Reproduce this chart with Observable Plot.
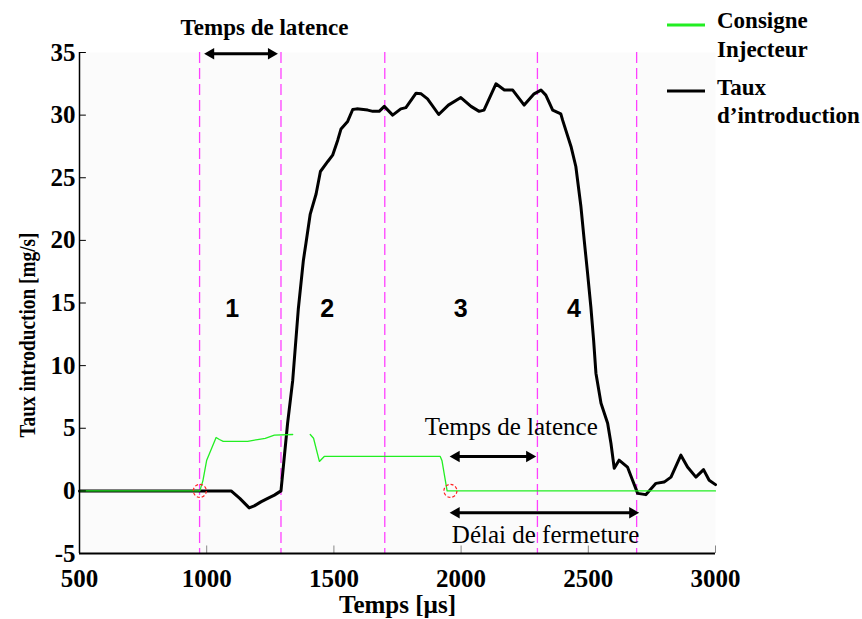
<!DOCTYPE html>
<html>
<head>
<meta charset="utf-8">
<script src="https://cdn.jsdelivr.net/npm/d3@7"></script>
<script src="https://cdn.jsdelivr.net/npm/@observablehq/plot@0.6"></script>
<style>
  html, body { margin: 0; padding: 0; background: #ffffff; }
  #chart { width: 862px; height: 619px; }
</style>
</head>
<body>
<div id="chart"></div>
<script>
// ---- Data ----
const xTicks = [500, 1000, 1500, 2000, 2500, 3000];
const yTicks = [-5, 0, 5, 10, 15, 20, 25, 30, 35];

// Taux d'introduction (black)
const tauxTime = [500, 1096, 1130, 1167, 1187, 1213, 1240, 1266, 1292, 1318, 1338, 1360, 1380, 1390, 1407, 1430, 1447, 1476, 1495, 1515, 1528, 1554, 1574, 1590, 1633, 1653, 1678, 1698, 1731, 1763, 1783, 1823, 1843, 1868, 1912, 1950, 1999, 2039, 2071, 2090, 2137, 2170, 2203, 2248, 2287, 2314, 2333, 2360, 2392, 2399, 2432, 2451, 2471, 2484, 2497, 2510, 2521, 2530, 2550, 2576, 2589, 2602, 2621, 2654, 2674, 2694, 2726, 2766, 2798, 2825, 2864, 2890, 2923, 2953, 2975, 3000];
const tauxValue = [0, 0, -0.6, -1.36, -1.2, -0.88, -0.6, -0.34, 0, 5.4, 8.8, 14.5, 18.4, 19.75, 22.1, 23.7, 25.5, 26.3, 26.8, 28.0, 28.9, 29.5, 30.45, 30.5, 30.4, 30.3, 30.3, 30.7, 30.0, 30.5, 30.6, 31.75, 31.7, 31.3, 30.05, 30.8, 31.4, 30.7, 30.3, 30.4, 32.5, 32.0, 32.0, 30.8, 31.7, 32.0, 31.6, 30.4, 30.1, 29.6, 27.5, 25.9, 22.7, 20.0, 17.4, 14.7, 12.0, 9.4, 7.0, 5.4, 3.8, 1.8, 2.45, 1.9, 0.85, -0.2, -0.3, 0.6, 0.7, 1.1, 2.85, 1.9, 1.1, 1.7, 0.85, 0.5];

// Consigne injecteur (green); null = gap in the trace
const consTime = [500, 973, 985, 1000, 1037, 1050, 1065, 1161, 1200, 1230, 1266, 1338, 1370, 1407, 1420, 1443, 1462, 1918, 1925, 1945, 3000];
const consValue = [0, 0, 0.8, 2.45, 4.26, 4.1, 3.95, 3.95, 4.1, 4.2, 4.45, 4.5, null, 4.5, 4.2, 2.35, 2.75, 2.75, 2.4, 0, 0];

// Phase boundaries (magenta dashed)
const phaseLines = [972, 1292, 1700, 2300, 2690];
// Phase numbers
const phaseLabels = ["1", "2", "3", "4"];
const phaseLabelX = [1100, 1474, 1998, 2444];
const phaseLabelY = 14.56;
// Red circles (start / end of command)
const markerTime = [973, 1958];
const markerValue = [0, 0];

// Annotations
const arrowStart = [990, 1955, 1955];
const arrowEnd = [1280, 2295, 2700];
const arrowY = [34.9, 2.75, -1.75];
const topText = ["Temps de latence"];
const topX = [1227];
const topY = [36.4];
const lowText = ["Temps de latence", "Délai de fermeture"];
const lowX = [2197, 2332];
const lowY = [4.45, -4.15];

const xLabel = "Temps [µs]";
const yLabel = "Taux introduction [mg/s]";
const legendLabels = [["Consigne", "Injecteur"], ["Taux", "d’introduction"]];
const legendColors = ["#22ee22", "#000000"];

// ---- Build tables ----
const taux = tauxTime.map((t, i) => ({t, v: tauxValue[i]}));
const cons = consTime.map((t, i) => ({t, v: consValue[i]}));
const markers = markerTime.map((t, i) => ({t, v: markerValue[i]}));
const phases = phaseLabels.map((s, i) => ({s, x: phaseLabelX[i], y: phaseLabelY}));
const arrows = arrowStart.map((x1, i) => ({x1, x2: arrowEnd[i], y: arrowY[i]}));
const topAnno = topText.map((s, i) => ({s, x: topX[i], y: topY[i]}));
const lowAnno = lowText.map((s, i) => ({s, x: lowX[i], y: lowY[i]}));

const serif = "'Liberation Serif', 'Times New Roman', serif";
const sans = "'Liberation Sans', Arial, sans-serif";
const fmt = d => String(d);

const svg = Plot.plot({
  width: 862,
  height: 619,
  marginLeft: 79,
  marginRight: 147,
  marginTop: 52,
  marginBottom: 66,
  x: {domain: [500, 3000]},
  y: {domain: [-5, 35]},
  style: {fontFamily: serif, background: "#ffffff", overflow: "visible"},
  marks: [
    Plot.frame({fill: "#fbfbfb", stroke: null}),
    Plot.ruleX(phaseLines, {stroke: "#ff40ff", strokeWidth: 1.3, strokeDasharray: "11,5"}),
    Plot.line(taux, {x: "t", y: "v", stroke: "#000000", strokeWidth: 3, strokeLinejoin: "round", strokeLinecap: "round"}),
    Plot.line(cons, {x: "t", y: "v", stroke: "#22ee22", strokeWidth: 1.3}),
    Plot.dot(markers, {x: "t", y: "v", r: 6.5, stroke: "#ff2020", strokeWidth: 1.2, strokeDasharray: "3,2", fill: "none"}),
    // double arrows: shaft + filled heads
    Plot.arrow(arrows, {x1: "x1", x2: "x2", y1: "y", y2: "y", headLength: 0, insetStart: 8, insetEnd: 8, strokeWidth: 3, stroke: "#000000"}),
    Plot.dot(arrows, {x: "x1", y: "y", symbol: "triangle", r: 4.3, rotate: -90, dx: 6.67, fill: "#000000", stroke: "none"}),
    Plot.dot(arrows, {x: "x2", y: "y", symbol: "triangle", r: 4.3, rotate: 90, dx: -6.67, fill: "#000000", stroke: "none"}),
    Plot.text(topAnno, {x: "x", y: "y", text: "s", fontWeight: "bold", fontSize: 23, lineAnchor: "bottom", textAnchor: "middle", fill: "#000000", fontFamily: serif}),
    Plot.text(lowAnno, {x: "x", y: "y", text: "s", fontWeight: "normal", fontSize: 25, lineAnchor: "bottom", textAnchor: "middle", fill: "#000000", fontFamily: serif}),
    Plot.text(phases, {x: "x", y: "y", text: "s", fontSize: 25, fontWeight: "bold", fontFamily: sans, fill: "#000000", lineAnchor: "middle"}),
    // axes
    Plot.ruleY(yTicks, {x1: 500, x2: 527, stroke: "#000000", strokeWidth: 1}),
    Plot.ruleX(xTicks.slice(1), {y1: -5, y2: -4.4, stroke: "#888888", strokeWidth: 1}),
    Plot.ruleX([500], {stroke: "#000000", strokeWidth: 1.5}),
    Plot.ruleY([-5], {stroke: "#000000", strokeWidth: 2}),
    Plot.axisY({ticks: yTicks, tickFormat: fmt, tickSize: 0, tickPadding: 4, fontSize: 25, fontWeight: "bold", label: null, fontFamily: serif, fill: "#000000"}),
    Plot.axisX({ticks: xTicks, tickFormat: fmt, tickSize: 0, tickPadding: 16, fontSize: 25, fontWeight: "bold", label: null, fontFamily: serif, fill: "#000000"}),
    Plot.text([xLabel], {frameAnchor: "bottom", dy: 59, lineAnchor: "bottom", textAnchor: "middle", fontSize: 25, fontWeight: "bold", fontFamily: serif, fill: "#000000"}),
    Plot.text([yLabel], {frameAnchor: "left", rotate: -90, dx: -52, dy: 32, textAnchor: "middle", lineAnchor: "middle", fontSize: 24, fontWeight: "bold", fontFamily: serif, fill: "#000000"})
  ]
});

// The reference's y title is a condensed bold face: fit it to its measured length
d3.select(svg).selectAll("text")
  .filter(function() { return this.textContent === yLabel; })
  .attr("textLength", 205)
  .attr("lengthAdjust", "spacingAndGlyphs");

// Legend (top right, outside the plot frame)
const g = d3.select(svg).append("g").attr("class", "legend").attr("text-anchor", "start");
const legendRows = [{lineY: 25, base: [28, 57]}, {lineY: 91, base: [95, 123]}];
legendLabels.forEach((lines, i) => {
  g.append("line")
    .attr("x1", 667).attr("x2", 705)
    .attr("y1", legendRows[i].lineY).attr("y2", legendRows[i].lineY)
    .attr("stroke", legendColors[i]).attr("stroke-width", 3);
  lines.forEach((s, j) => {
    g.append("text")
      .attr("x", 717).attr("y", legendRows[i].base[j])
      .attr("text-anchor", "start")
      .attr("font-family", serif).attr("font-size", 23).attr("font-weight", "bold")
      .attr("fill", "#000000")
      .text(s);
  });
});

document.getElementById("chart").appendChild(svg);
</script>
</body>
</html>
